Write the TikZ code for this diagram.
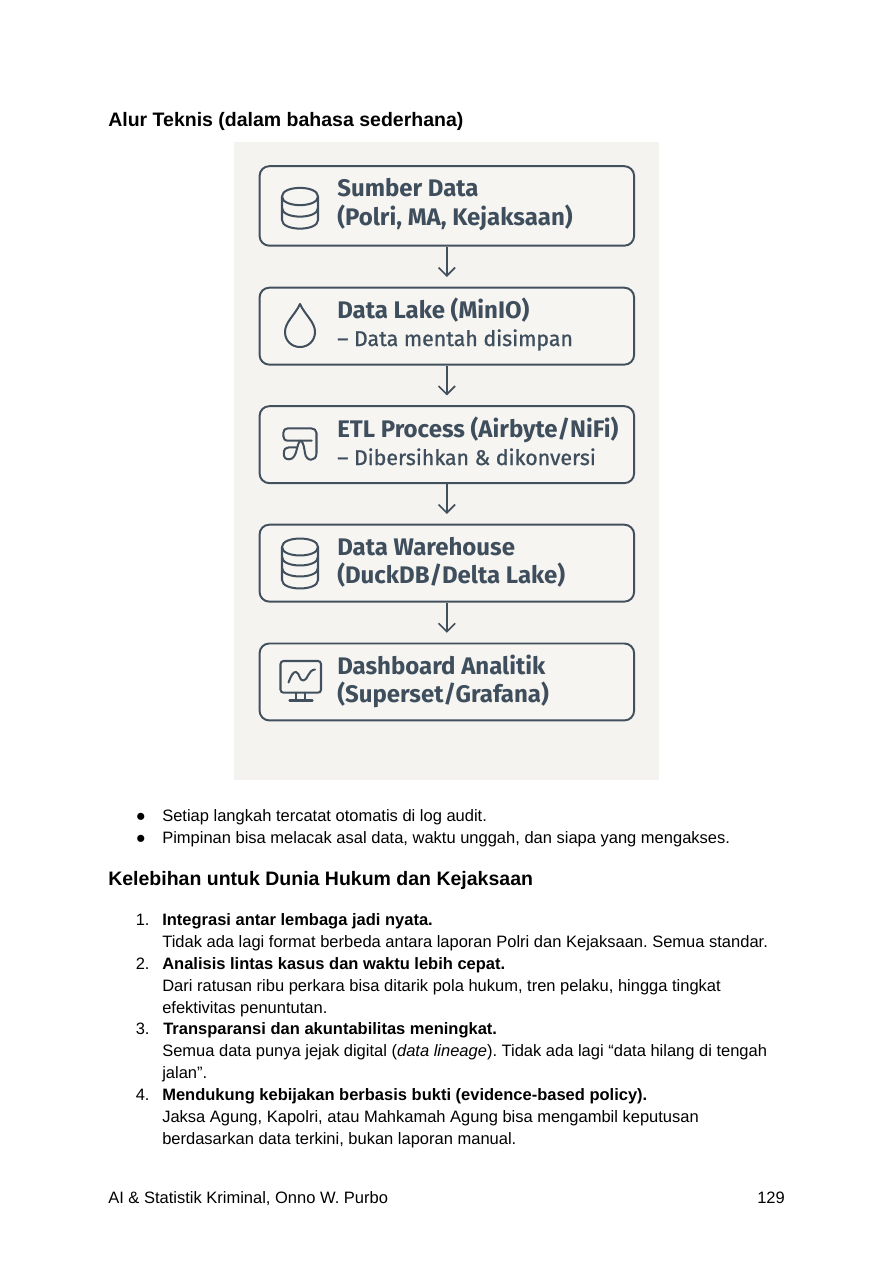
\documentclass[tikz,border=0pt]{standalone}
\usepackage{fontspec}
\setmainfont{Liberation Sans}
\newfontfamily\diagfont{Fira Sans}
\usetikzlibrary{arrows.meta}
\frenchspacing
\definecolor{slateline}{HTML}{42505E}
\definecolor{slatetext}{HTML}{3F4E5C}
\definecolor{panelbg}{HTML}{F5F3F0}
\definecolor{boxbg}{HTML}{F6F5F2}
\tikzset{
  stage/.style={draw=slateline, line width=1.3pt, rounded corners=6.5pt, fill=boxbg,
    minimum width=249.7pt, anchor=north west, inner sep=0pt},
  flow/.style={draw=slateline, line width=1.1pt, -{Straight Barb[length=5.5pt,width=11pt]}, shorten >=6.5pt},
  icon/.style={draw=slateline, line width=1.35pt, line cap=round, line join=round},
  big/.style={anchor=base west, inner sep=0pt, text=slatetext, font=\diagfont\fontsize{16}{18}\selectfont\bfseries},
  small/.style={anchor=base west, inner sep=0pt, text=slatetext, font=\diagfont\fontsize{14.2}{18}\selectfont\addfontfeature{FakeBold=1}},
  line/.style={anchor=base west, inner sep=0pt, font=\fontsize{11}{13}\selectfont},
  head/.style={anchor=base west, inner sep=0pt, font=\fontsize{13}{16}\selectfont\bfseries}
}
\begin{document}
\begin{tikzpicture}[x=0.6667pt,y=-0.6667pt]
\useasboundingbox (0,0) rectangle (894,1263);
\fill[white] (0,0) rectangle (894,1263);

\node[head] (title) at (108,126) {Alur Teknis (dalam bahasa sederhana)};
\fill[panelbg] (234,142) rectangle (659,780);

% boxes
\node[stage, minimum height=53pt] (source) at (258.6,165.2) {};
\node[stage, minimum height=51.3pt] (lake) at (258.6,286.7) {};
\node[stage, minimum height=51.3pt] (etl) at (258.6,405.2) {};
\node[stage, minimum height=51.3pt] (warehouse) at (258.6,523.7) {};
\node[stage, minimum height=51.3pt] (dash) at (258.6,642.5) {};

\draw[flow] (source) -- (lake);
\draw[flow] (lake) -- (etl);
\draw[flow] (etl) -- (warehouse);
\draw[flow] (warehouse) -- (dash);

\node[big] (sourceA) at (337,196) {Sumber Data};
\node[big] (sourceB) at (337,225) {(Polri, MA, Kejaksaan)};
\node[big] (lakeA) at (337,318) {Data Lake (MinIO)};
\node[small] (lakeB) at (337,346) {– Data mentah disimpan};
\node[big] (etlA) at (337,437.5) {ETL Process (Airbyte/NiFi)};
\node[small] (etlB) at (337,465) {– Dibersihkan \& dikonversi};
\node[big] (warehouseA) at (337,555.5) {Data Warehouse};
\node[big] (warehouseB) at (337,583.5) {(DuckDB/Delta Lake)};
\node[big] (dashA) at (337,674) {Dashboard Analitik};
\node[big] (dashB) at (337,702) {(Superset/Grafana)};

% database icon
\draw[icon] (282,196.5) .. controls (282,185) and (318,185) .. (318,196.5)
  .. controls (318,208) and (282,208) .. (282,196.5) -- (282,220) .. controls (282,231.5) and (318,231.5) .. (318,220) -- (318,196.5);
\draw[icon] (282,208) .. controls (282,219.5) and (318,219.5) .. (318,208);

% drop icon
\draw[icon] (300,304) .. controls (295,315) and (285,322) .. (285,332)
  .. controls (285,341) and (292,347) .. (300,347)
  .. controls (308,347) and (315,341) .. (315,332)
  .. controls (315,322) and (305,315) .. (300,304) -- cycle;

% etl icon
\draw[icon] (283.3,436) -- (283.3,433) .. controls (283.3,430) and (285,428.3) .. (288,428.3) -- (311,428.3)
  .. controls (314,428.3) and (316.5,430) .. (316.5,433) -- (316.5,453)
  .. controls (316.5,462) and (306,462) .. (305,453) .. controls (304,447) and (303.5,443) .. (301,440.7);
\draw[icon] (283.3,436) .. controls (283.3,439) and (285,440.7) .. (288.3,440.7) -- (311.7,440.7);
\draw[icon] (301,440.7) .. controls (296,442) and (298,459.3) .. (289,459.3)
  .. controls (285,459.3) and (283.8,457) .. (283.8,453.5) .. controls (283.8,449) and (286,447.3) .. (289,447.3) -- (296.5,447.3);

% warehouse icon
\draw[icon] (282,547) .. controls (282,535.7) and (318,535.7) .. (318,547)
  .. controls (318,558.3) and (282,558.3) .. (282,547) -- (282,580) .. controls (282,591.3) and (318,591.3) .. (318,580) -- (318,547);
\foreach \c in {557,568}
  \draw[icon] (282,\c) .. controls (282,\c+11.3) and (318,\c+11.3) .. (318,\c);

% monitor icon
\draw[icon, rounded corners=2pt] (280.5,661) rectangle (321,692.7);
\draw[icon] (296,692.7) -- (296,700) (305,692.7) -- (305,700) (289.5,700.5) -- (312.5,700.5);
\draw[icon] (288.5,682.5) .. controls (291,676) and (293,671.5) .. (296,672)
  .. controls (300,673) and (299,681) .. (303.5,680.5) .. controls (308,680) and (308,670) .. (315,669.5);

% page text
\node[line] (bulA) at (135.5,821) {●};
\node[line] (setiap) at (162,821) {Setiap langkah tercatat otomatis di log audit.};
\node[line] (bulB) at (135.5,843) {●};
\node[line] (pimpinan) at (162,843) {Pimpinan bisa melacak asal data, waktu unggah, dan siapa yang mengakses.};

\node[head] (kelebihan) at (108,885) {Kelebihan untuk Dunia Hukum dan Kejaksaan};

\node[line] (numA) at (135.5,925) {1.};
\node[line] (itemA) at (162,925) {\bfseries Integrasi antar lembaga jadi nyata.};
\node[line] (itemAa) at (162,947.5) {Tidak ada lagi format berbeda antara laporan Polri dan Kejaksaan. Semua standar.};
\node[line] (numB) at (135.5,969.5) {2.};
\node[line] (itemB) at (162,969.5) {\bfseries Analisis lintas kasus dan waktu lebih cepat.};
\node[line] (itemBa) at (162,991.5) {Dari ratusan ribu perkara bisa ditarik pola hukum, tren pelaku, hingga tingkat};
\node[line] (itemBb) at (162,1013.5) {efektivitas penuntutan.};
\node[line] (numC) at (135.5,1034.5) {3.};
\node[line] (itemC) at (163,1034.5) {\bfseries Transparansi dan akuntabilitas meningkat.};
\node[line] (itemCa) at (162,1056.5) {Semua data punya jejak digital (\textit{data lineage}). Tidak ada lagi “data hilang di tengah};
\node[line] (itemCb) at (162,1078.5) {jalan”.};
\node[line] (numD) at (135.5,1100) {4.};
\node[line] (itemD) at (162,1100) {\bfseries Mendukung kebijakan berbasis bukti (evidence-based policy).};
\node[line] (itemDa) at (162,1122) {Jaksa Agung, Kapolri, atau Mahkamah Agung bisa mengambil keputusan};
\node[line] (itemDb) at (162,1144) {berdasarkan data terkini, bukan laporan manual.};

\node[line] (footer) at (108,1203) {AI \& Statistik Kriminal, Onno W. Purbo};
\node[line] (pagenum) at (757,1203) {129};
\end{tikzpicture}
\end{document}
